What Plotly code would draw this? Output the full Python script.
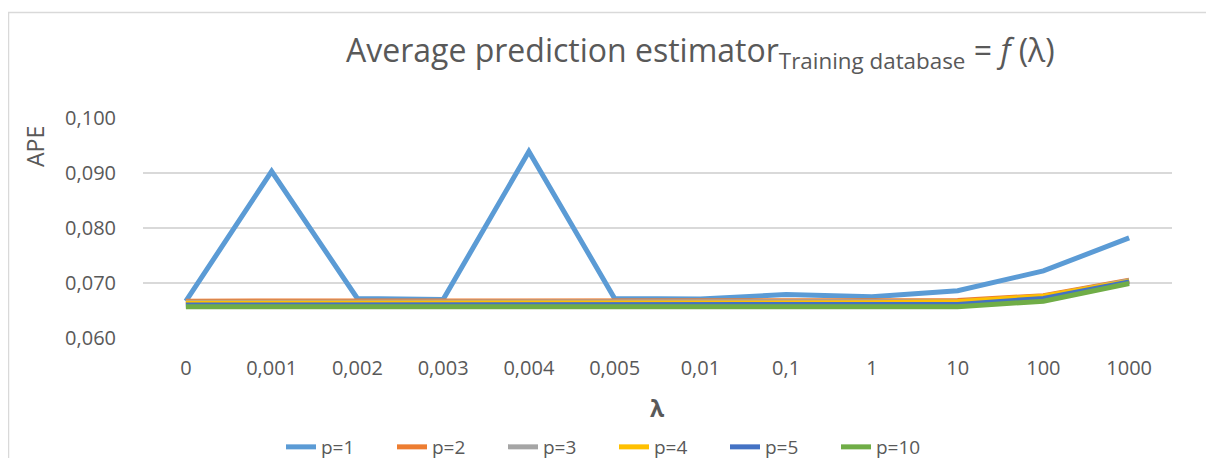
import plotly.graph_objects as go

categories = ["0", "0,001", "0,002", "0,003", "0,004", "0,005", "0,01", "0,1", "1", "10", "100", "1000"]
series_names = ["p=1", "p=2", "p=3", "p=4", "p=5", "p=10"]
p1 = [0.0667, 0.0903, 0.0672, 0.0670, 0.0939, 0.0672, 0.0671, 0.0679, 0.0675, 0.0686, 0.0722, 0.0782]
p2 = [0.0667, 0.0667, 0.0667, 0.0667, 0.0667, 0.0666, 0.0666, 0.0666, 0.0666, 0.0668, 0.0677, 0.0705]
p3 = [0.0665, 0.0665, 0.0665, 0.0665, 0.0665, 0.0665, 0.0665, 0.0665, 0.0665, 0.0666, 0.0675, 0.0704]
p4 = [0.0663, 0.0663, 0.0663, 0.0663, 0.0663, 0.0663, 0.0663, 0.0663, 0.0664, 0.0666, 0.0676, 0.0703]
p5 = [0.0660, 0.0660, 0.0660, 0.0660, 0.0660, 0.0660, 0.0660, 0.0660, 0.0660, 0.0661, 0.0672, 0.0702]
p10 = [0.0657, 0.0657, 0.0657, 0.0657, 0.0657, 0.0657, 0.0657, 0.0657, 0.0657, 0.0657, 0.0667, 0.0699]
colors = ["#5B9BD5", "#ED7D31", "#A5A5A5", "#FFC000", "#4472C4", "#70AD47"]
y_ticks = [0.060, 0.070, 0.080, 0.090, 0.100]

# page body has an 8px margin; design in screen coords and shift
OFF = 8
W, H = 1214, 458
PL, PR, PT, PB = 143, 1172, 118, 338  # plot area in screen px
L, R, T, B = PL - OFF, W - (PR - OFF), PT - OFF, H - (PB - OFF)
pw, ph = W - L - R, H - T - B

def px_x(x):
    return (x - OFF - L) / pw

def px_y(y):
    return (H - B - (y - OFF)) / ph

FONT = "Open Sans"
GREY = "#595959"

fig = go.Figure()
for name, vals, col in zip(series_names, [p1, p2, p3, p4, p5, p10], colors):
    fig.add_trace(go.Scatter(x=categories, y=vals, mode="lines", name=name,
                             line=dict(color=col, width=5)))

fig.update_layout(
    width=W, height=H,
    margin=dict(l=L, r=R, t=T, b=B, autoexpand=False),
    paper_bgcolor="white", plot_bgcolor="white",
    separators=", ",
    font=dict(family=FONT, color=GREY, size=20),
    showlegend=True,
    legend=dict(orientation="h", x=px_x(614), xanchor="center", y=px_y(447), yanchor="middle",
                font=dict(size=19, color=GREY), entrywidth=66, entrywidthmode="pixels",
                bgcolor="rgba(0,0,0,0)"),
    xaxis=dict(type="category", range=[-0.5, 11.5], showgrid=False, zeroline=False,
               showline=False, ticks="", tickfont=dict(size=20, color=GREY),
               ticklabelstandoff=16, fixedrange=True),
    yaxis=dict(range=[0.060, 0.100], tickvals=y_ticks, tickformat=".3f",
               showgrid=True, gridcolor="#D9D9D9", gridwidth=1.5, zeroline=False,
               showline=False, ticks="", tickfont=dict(size=20, color=GREY),
               ticklabelstandoff=26, fixedrange=True),
    shapes=[dict(type="rect", xref="paper", yref="paper",
                 x0=px_x(8.5), x1=px_x(W + 40), y0=px_y(H + 40), y1=px_y(12.5),
                 line=dict(color="#D9D9D9", width=1.5), fillcolor="rgba(0,0,0,0)", layer="below")],
    annotations=[
        dict(text="Average prediction estimator<sub>Training database</sub> = <i>f</i> (λ)",
             xref="paper", yref="paper", x=px_x(700), y=px_y(52), xanchor="center", yanchor="middle",
             showarrow=False, font=dict(size=32, color=GREY, family=FONT)),
        dict(text="APE", xref="paper", yref="paper", x=px_x(35), y=px_y(147), textangle=-90,
             xanchor="center", yanchor="middle", showarrow=False, font=dict(size=23, color=GREY)),
        dict(text="<b>λ</b>", xref="paper", yref="paper", x=px_x(657), y=px_y(408),
             xanchor="center", yanchor="middle", showarrow=False, font=dict(size=23, color=GREY)),
    ],
)

fig.write_html("out.html")
